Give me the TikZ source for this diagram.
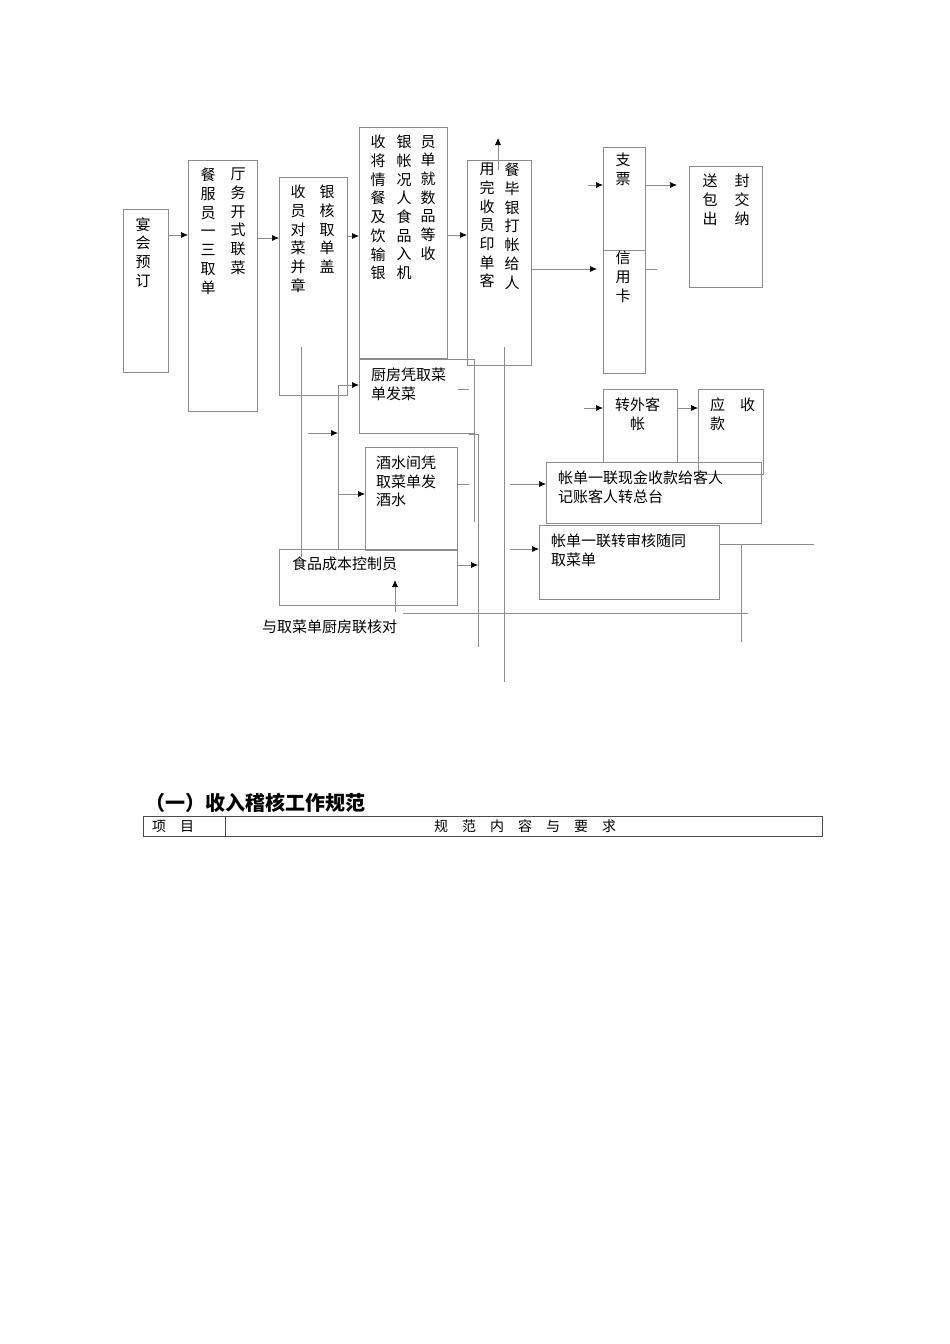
\documentclass[tikz,border=0pt]{standalone}
\usepackage{fontspec}
\newfontfamily\cjk{Noto Sans CJK SC}
\usetikzlibrary{arrows.meta}
\tikzset{
 bx/.style={draw=black!45, line width=0.7pt, anchor=north west, inner sep=0pt},
 vt/.style={anchor=north, align=center, inner sep=0pt, font=\cjk\fontsize{15}{18.7}\selectfont},
 ht/.style={anchor=north west, align=left, inner sep=0pt, font=\cjk\fontsize{15}{18.5}\selectfont},
 ln/.style={draw=black!45, line width=0.7pt},
 arr/.style={ln, -{Latex[length=7pt,width=6pt,black]}},
}
\newcommand{\bxat}[5]{\node[bx, minimum width=#4pt, minimum height=#5pt] (#1) at (#2,#3) {};}
\begin{document}
\begin{tikzpicture}[x=1pt,y=-1pt]
\useasboundingbox (0,0) rectangle (950,1344);
% boxes
\bxat{A}{123}{209}{45}{163}
\bxat{B}{188}{160}{69}{251}
\bxat{C}{279}{177}{68}{218}
\bxat{D}{359}{127}{88}{231}
\bxat{E}{467}{160}{64}{205}
\bxat{F}{603}{147}{42}{226}
\bxat{G}{689}{166}{73}{121}
\bxat{H}{359}{359}{115}{74}
\bxat{I}{365}{447}{92}{103}
\bxat{J}{279}{549}{178}{56}
\bxat{K}{603}{389}{74}{73}
\bxat{L}{698}{389}{65}{85}
\bxat{M}{546}{462}{215}{61}
\bxat{N}{539}{525}{180}{74}
\draw[ln] (F.west |- 0,250) -- (F.east |- 0,250);
% texts
\node[vt] (tA) at (143,217) {宴\\会\\预\\订};
\node[vt] (tB1) at (208,168) {餐\\服\\员\\一\\三\\取\\单};
\node[vt] (tB2) at (238,168) {厅\\务\\开\\式\\联\\菜};
\node[vt] (tC1) at (298,185) {收\\员\\对\\菜\\并\\章};
\node[vt] (tC2) at (327,185) {银\\核\\取\\单\\盖};
\node[vt] (tD1) at (378,135) {收\\将\\情\\餐\\及\\饮\\输\\银};
\node[vt] (tD2) at (404,135) {银\\帐\\况\\人\\食\\品\\入\\机};
\node[vt] (tD3) at (428,135) {员\\单\\就\\数\\品\\等\\收};
\node[vt] (tE1) at (487,163) {用\\完\\收\\员\\印\\单\\客};
\node[vt] (tE2) at (512,163) {餐\\毕\\银\\打\\帐\\给\\人};
\node[vt] (tF1) at (623,153) {支\\票};
\node[vt] (tF2) at (623,251) {信\\用\\卡};
\node[vt] (tG1) at (710,174) {送\\包\\出};
\node[vt] (tG2) at (742,174) {封\\交\\纳};
\node[ht] (tH) at (371,368) {厨房凭取菜\\单发菜};
\node[ht] (tI) at (376,456) {酒水间凭\\取菜单发\\酒水};
\node[ht] (tJ) at (292,557) {食品成本控制员};
\node[ht] (tK) at (615,398) {转外客\\\hspace*{15pt}帐};
\node[ht] (tL) at (710,398) {应\hspace{15pt}收\\款};
\node[ht] (tM) at (558,471) {帐单一联现金收款给客人\\记账客人转总台};
\node[ht] (tN) at (551,534) {帐单一联转审核随同\\取菜单};
\node[ht] (tX) at (262,620) {与取菜单厨房联核对};
% arrows main row
\draw[arr] (A.east |- 0,235) -- (B.west |- 0,235);
\draw[arr] (B.east |- 0,238) -- (C.west |- 0,238);
\draw[arr] (C.east |- 0,236) -- (D.west |- 0,236);
\draw[arr] (D.east |- 0,235) -- (E.west |- 0,235);
\draw[arr] (E.east |- 0,269) -- (597,269);
\draw[ln] (F.east |- 0,269) -- (657,269);
\coordinate (f0) at (588,185);
\draw[arr] (f0) -- (F.west |- f0);
\draw[arr] (F.east |- 0,185) -- (677,185);
\coordinate (up) at (498,138);
\draw[arr] (498,170) -- (up);
% lower left connectors
\draw[ln] (301,347) -- (301,557);
\draw[ln] (338,549) -- (338,385);
\draw[arr] (338,385) -- (H.west |- 0,385);
\draw[arr] (338,494) -- (I.west |- 0,494);
\draw[arr] (308,433) -- (338,433);
\draw[ln] (458,389) -- (469,389);
\draw[ln] (458,484) -- (469,484);
\draw[ln] (H.east) ++(0,0) (474,433) -- (474,522);
\draw[ln] (469,434) -- (478,434) -- (478,647);
\draw[arr] (J.east |- 0,565) -- (478,565);
\draw[ln] (504,347) -- (504,682);
\draw[arr] (395,612) -- (395,580);
\draw[ln] (403,613) -- (748,613);
% right lower
\draw[arr] (584,408) -- (K.west |- 0,408);
\draw[arr] (K.east |- 0,408) -- (L.west |- 0,408);
\draw[arr] (510,484) -- (M.west |- 0,484);
\draw[arr] (510,549) -- (N.west |- 0,549);
\draw[ln] (N.east |- 0,544) -- (814,544);
\draw[ln] (741,544) -- (741,642);
% title + table
\node[anchor=west, inner sep=0pt, font=\cjk\bfseries\fontsize{20}{22}\selectfont] (title) at (145,803) {（一）收入稽核工作规范};
\node[draw=black!70, line width=0.8pt, anchor=north west, minimum width=679pt, minimum height=20pt, inner sep=0pt] (tab) at (143,816) {};
\draw[black!70, line width=0.8pt] (225,816) -- (225,836);
\node[anchor=west, inner sep=0pt, font=\cjk\fontsize{14}{16}\selectfont] (h1) at (152,826) {项\hspace{14pt}目};
\node[anchor=center, inner sep=0pt, font=\cjk\fontsize{14}{16}\selectfont] (h2) at (525,826) {规\hspace{14pt}范\hspace{14pt}内\hspace{14pt}容\hspace{14pt}与\hspace{14pt}要\hspace{14pt}求};
\end{tikzpicture}
\end{document}
